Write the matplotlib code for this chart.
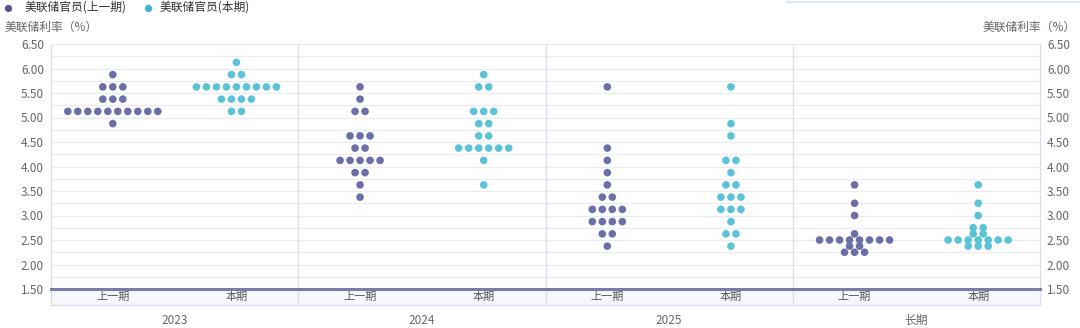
import numpy as np
import matplotlib
matplotlib.use('Agg')
import matplotlib.pyplot as plt
from matplotlib.lines import Line2D
from matplotlib.patches import Rectangle

plt.rcParams['font.family'] = ['Noto Sans CJK SC', 'DejaVu Sans']

# ---------------- data ----------------
groups = ['2023', '2024', '2025', '长期']
periods = ['上一期', '本期']
series_names = ['美联储官员(上一期)', '美联储官员(本期)']

# rate levels and number of officials at each level
prev_2023_levels = [5.875, 5.625, 5.375, 5.125, 4.875]
prev_2023_counts = [1, 3, 3, 10, 1]
curr_2023_levels = [6.125, 5.875, 5.625, 5.375, 5.125]
curr_2023_counts = [1, 2, 9, 4, 2]

prev_2024_levels = [5.625, 5.375, 5.125, 4.625, 4.375, 4.125, 3.875, 3.625, 3.375]
prev_2024_counts = [1, 1, 2, 3, 2, 5, 2, 1, 1]
curr_2024_levels = [5.875, 5.625, 5.125, 4.875, 4.625, 4.375, 4.125, 3.625]
curr_2024_counts = [1, 2, 3, 2, 2, 6, 1, 1]

prev_2025_levels = [5.625, 4.375, 4.125, 3.875, 3.625, 3.375, 3.125, 2.875, 2.625, 2.375]
prev_2025_counts = [1, 1, 1, 1, 1, 2, 4, 4, 2, 1]
curr_2025_levels = [5.625, 4.875, 4.625, 4.125, 3.875, 3.625, 3.375, 3.125, 2.875, 2.625, 2.375]
curr_2025_counts = [1, 1, 1, 2, 1, 2, 3, 3, 1, 2, 1]

prev_long_levels = [3.625, 3.25, 3.0, 2.625, 2.5, 2.375, 2.25]
prev_long_counts = [1, 1, 1, 1, 8, 2, 3]
curr_long_levels = [3.625, 3.25, 3.0, 2.75, 2.625, 2.5, 2.375]
curr_long_counts = [1, 1, 1, 2, 2, 7, 3]

y_ticks = [1.5, 2.0, 2.5, 3.0, 3.5, 4.0, 4.5, 5.0, 5.5, 6.0, 6.5]

prev_data = [(prev_2023_levels, prev_2023_counts), (prev_2024_levels, prev_2024_counts),
             (prev_2025_levels, prev_2025_counts), (prev_long_levels, prev_long_counts)]
curr_data = [(curr_2023_levels, curr_2023_counts), (curr_2024_levels, curr_2024_counts),
             (curr_2025_levels, curr_2025_counts), (curr_long_levels, curr_long_counts)]

# ---------------- style ----------------
c_prev = '#6b6fa8'
c_curr = '#5bc3d8'
grid_c = '#ebebf4'
sep_c = '#dcdcea'
txt_c = '#666666'

W, H = 1080, 328
fig = plt.figure(figsize=(W / 100, H / 100), dpi=100)
L, R, T, B = 51, 1040, 44, 289
ax = fig.add_axes([L / W, 1 - B / H, (R - L) / W, (B - T) / H])
ax.set_xlim(0, len(groups))
ax.set_ylim(y_ticks[0], y_ticks[-1])
for s in ax.spines.values():
    s.set_visible(False)

px_per_y = (B - T) / (y_ticks[-1] - y_ticks[0])
def py(px_below):
    return y_ticks[0] - px_below / px_per_y

# grid every 0.25
for v in np.arange(y_ticks[0] + 0.25, y_ticks[-1] + 0.001, 0.25):
    ax.axhline(v, color=grid_c, lw=0.9, zorder=0)

# bottom band
ax.add_patch(Rectangle((0, py(16)), len(groups), 16 / px_per_y, facecolor='#f6f6fb',
                       edgecolor='none', clip_on=False, zorder=0))
ax.plot([0, len(groups)], [py(16), py(16)], color=sep_c, lw=1, clip_on=False, zorder=1)
ax.axhline(y_ticks[0], color='#7c7ba8', lw=2.2, zorder=3, clip_on=False)

# group separators and edges
for gx in range(len(groups) + 1):
    ax.plot([gx, gx], [y_ticks[-1], py(16)], color=sep_c, lw=0.9, clip_on=False, zorder=1)

# labels
for g, name in enumerate(groups):
    for p, per in enumerate(periods):
        ax.text(g + 0.25 + 0.5 * p, py(8), per, ha='center', va='center',
                fontsize=8, color='#555555')
    ax.text(g + 0.5, py(31), name, ha='center', va='center', fontsize=8.5, color=txt_c)

# dots
dx = 10 / ((R - L) / len(groups))
for p, (data, col) in enumerate([(prev_data, c_prev), (curr_data, c_curr)]):
    for g, (levels, counts) in enumerate(data):
        center = g + 0.25 + 0.5 * p
        for lv, n in zip(levels, counts):
            xs = center + (np.arange(n) - (n - 1) / 2) * dx
            ax.scatter(xs, [lv] * n, s=30, color=col, edgecolors='none', zorder=4)

# ticks
ax.set_xticks([])
ax.set_yticks(y_ticks)
ax.set_yticklabels([f'{v:.2f}' for v in y_ticks])
ax.tick_params(axis='y', length=0, labelsize=8.5, colors=txt_c, pad=5,
               labelleft=True, labelright=True)

fig.text(5 / W, 1 - 27 / H, '美联储利率（%）', ha='left', va='center', fontsize=8.5, color=txt_c)
fig.text(1076 / W, 1 - 27 / H, '美联储利率（%）', ha='right', va='center', fontsize=8.5, color=txt_c)

# legend (drawn manually)
leg_y = 1 - 7.5 / H
for (mx, tx), name, col in zip([(8, 25), (148, 160)], series_names, ['#50548f', '#3fb6cf']):
    fig.add_artist(Line2D([mx / W], [leg_y], marker='o', ls='', color=col, markersize=4.2,
                          transform=fig.transFigure))
    fig.text(tx / W, leg_y, name, ha='left', va='center', fontsize=8.5, color='#333333')

fig.add_artist(Line2D([787 / W, 1], [1 - 1.5 / H] * 2, color='#dfe7f7', lw=1.6,
                      transform=fig.transFigure))

fig.savefig('out.png', dpi=100)
